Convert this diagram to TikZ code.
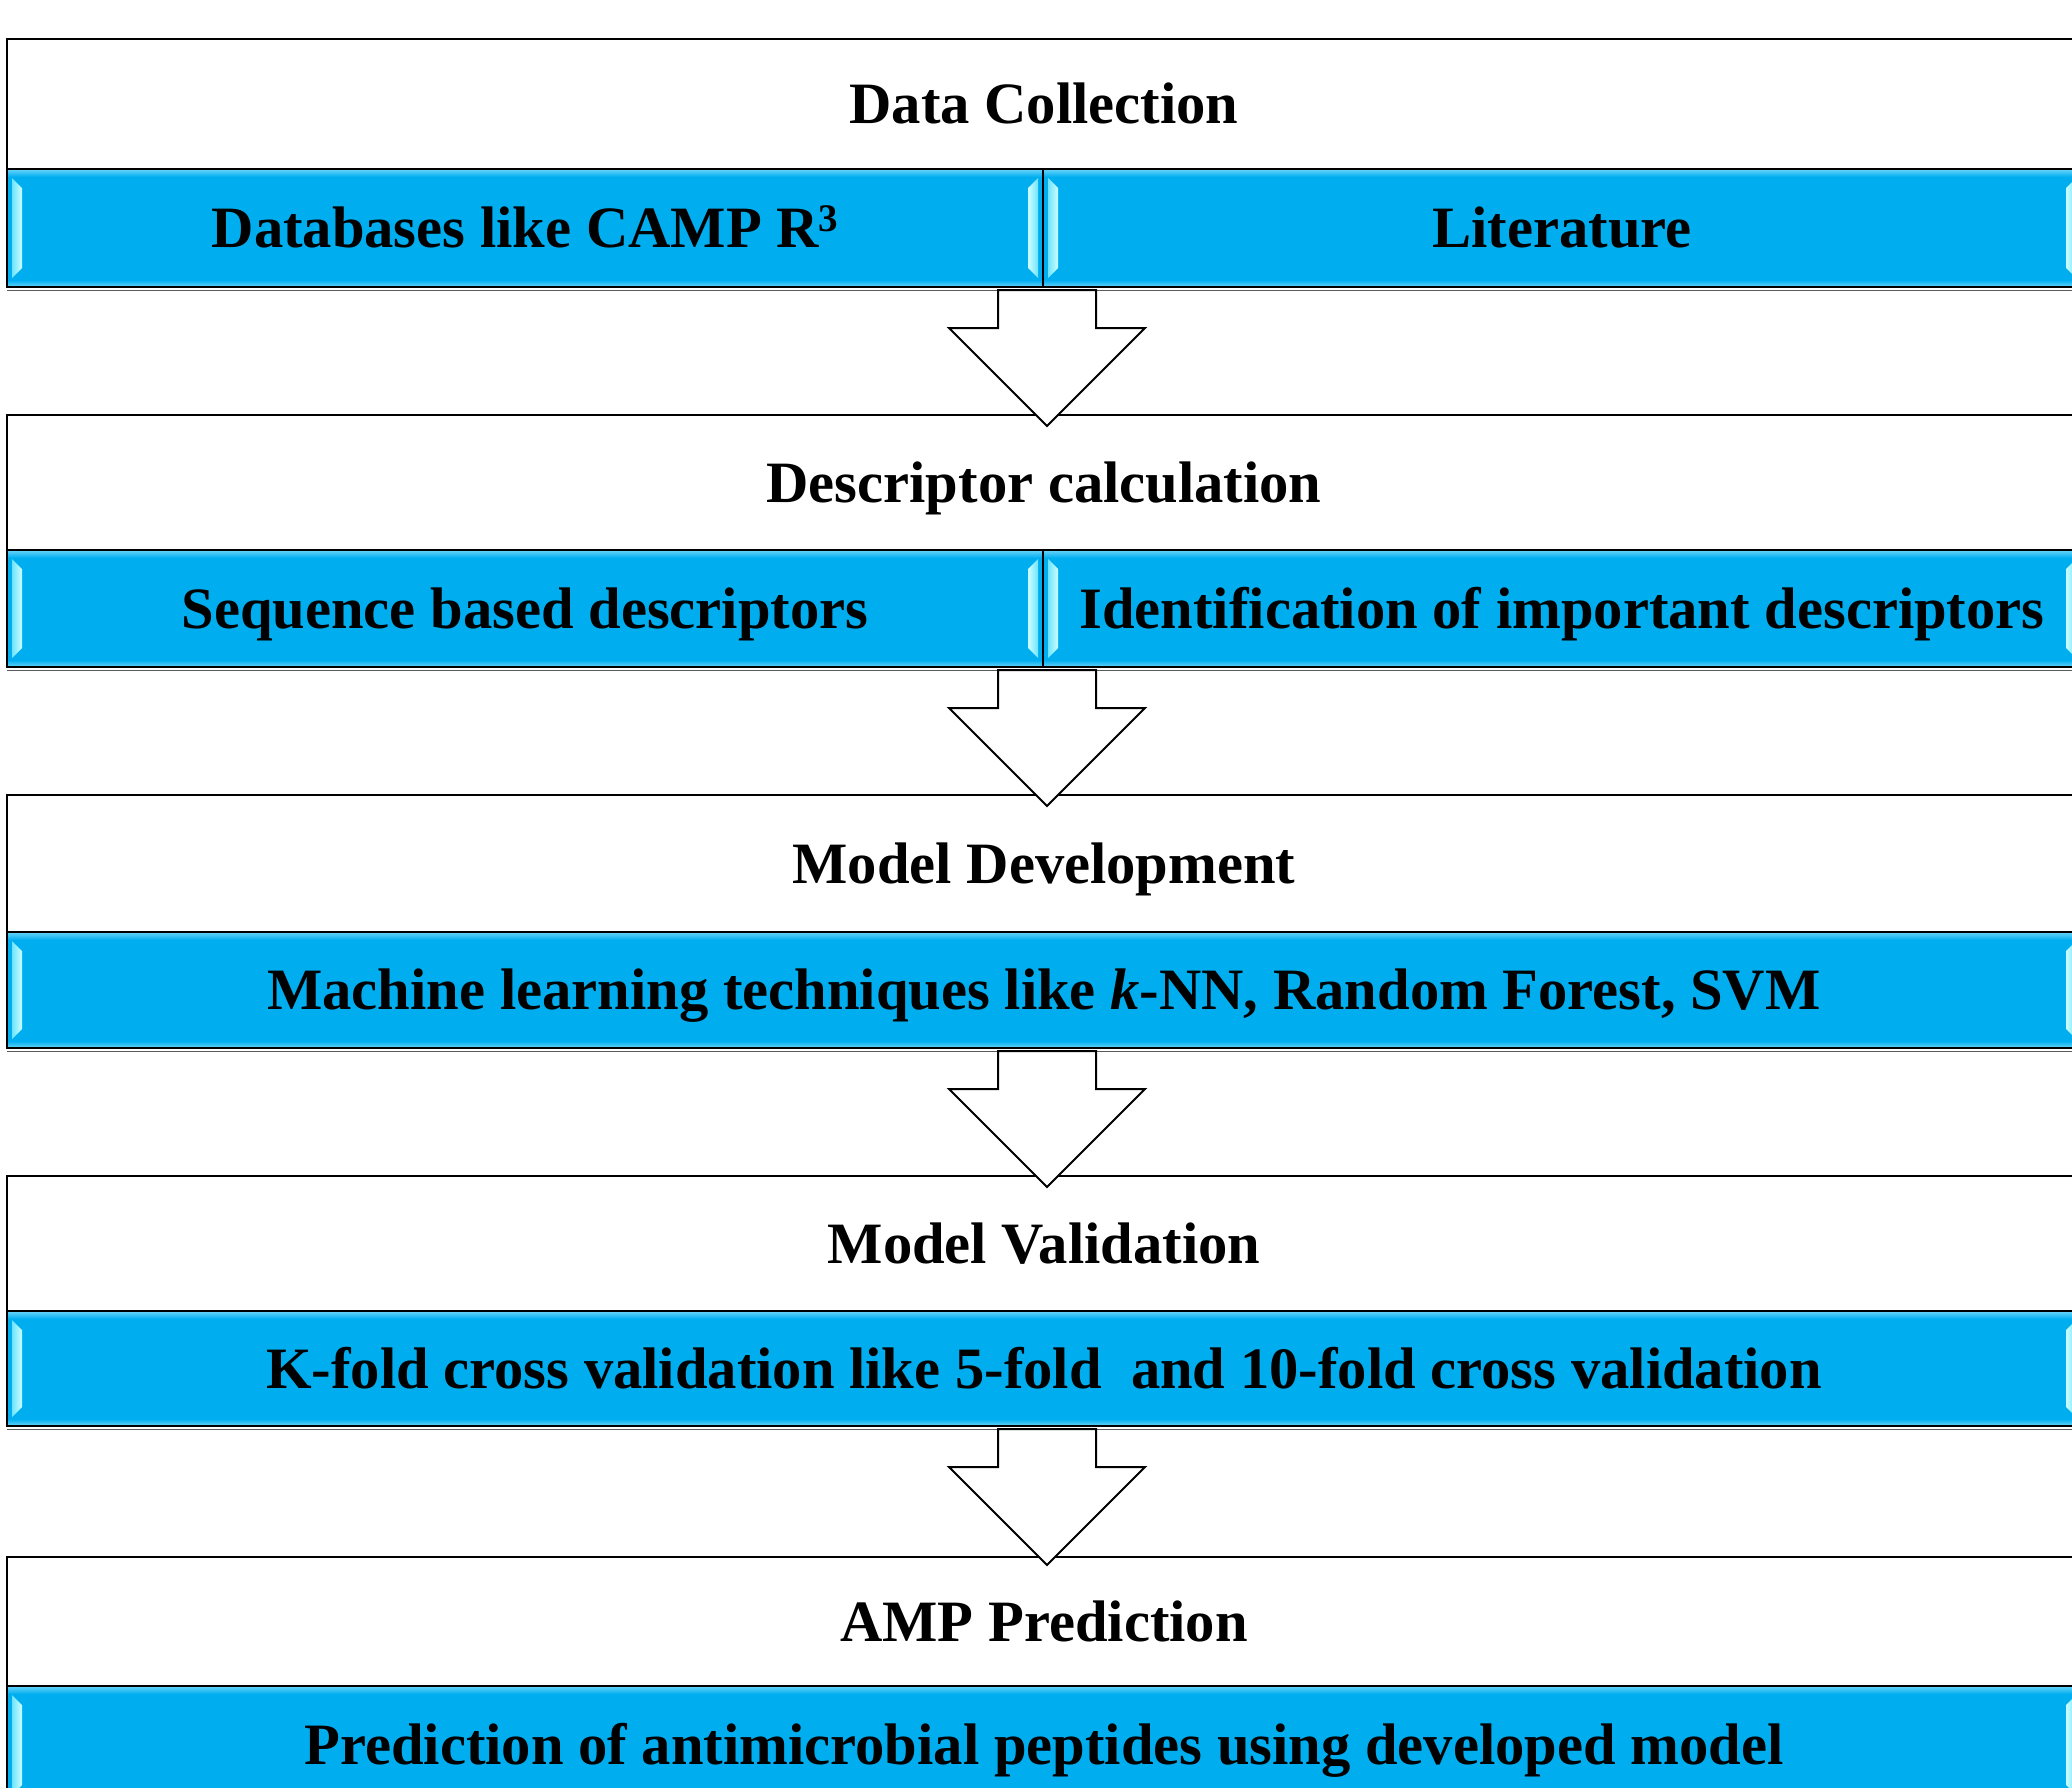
\documentclass[tikz,border=0pt]{standalone}
\usepackage{fontspec}
\setmainfont{Liberation Serif}
\usetikzlibrary{calc}

\definecolor{barblue}{RGB}{0,174,239}
\definecolor{barglow}{RGB}{105,212,250}
\definecolor{hlouter}{RGB}{110,228,252}
\definecolor{hlinner}{RGB}{205,255,255}
\definecolor{shadowgray}{RGB}{90,90,90}

% raised superscript digit, set by hand
\newcommand{\supdigit}[1]{\raisebox{16pt}{\fontsize{39}{40}\selectfont #1}}

\tikzset{
  stagetext/.style={font=\fontsize{58.6}{70}\selectfont\bfseries,
    text height=39pt, text depth=0pt, inner sep=0pt, outer sep=0pt,
    anchor=north west, line width=2pt, draw=black},
  stagehead/.style={stagetext, fill=white, minimum width=2074pt},
  stagebar/.style={stagetext, fill=barblue,
    path picture={
      \coordinate (pnw) at (path picture bounding box.north west);
      \coordinate (pse) at (path picture bounding box.south east);
      % soft glow along the top and bottom edges
      \shade[top color=barglow, bottom color=barblue]
        (pnw) rectangle ($(pnw -| pse)+(0pt,-8pt)$);
      \shade[top color=barblue, bottom color=barglow]
        ($(pse -| pnw)+(0pt,7pt)$) rectangle (pse);
      % bevelled highlights near the left and right edges
      \shade[left color=hlouter, right color=hlinner]
        ($(pnw)+(5pt,-9pt)$) -- ($(pnw)+(15pt,-19pt)$) --
        ($(pnw |- pse)+(15pt,19pt)$) -- ($(pnw |- pse)+(5pt,9pt)$) -- cycle;
      \shade[left color=hlinner, right color=hlouter]
        ($(pnw -| pse)+(-5pt,-9pt)$) -- ($(pnw -| pse)+(-15pt,-19pt)$) --
        ($(pse)+(-15pt,19pt)$) -- ($(pse)+(-5pt,9pt)$) -- cycle;
    }},
  shadowline/.style={draw=shadowgray, line width=1.5pt},
  flowarrow/.style={draw=black, fill=white, line width=2pt, line join=miter},
}

\begin{document}
\begin{tikzpicture}[x=1pt, y=-1pt]
  \useasboundingbox (0,0) rectangle (2072,1788);
  \clip (0,0) rectangle (2072,1788);
  \fill[white] (0,0) rectangle (2072,1788);

  % Stage 1
  \node[stagehead, minimum height=130pt] (h0) at (7,39) {Data Collection};
  \node[stagebar, minimum width=1036pt, minimum height=118pt] (b0l) at (7,169)
    {Databases like CAMP R\supdigit{3}};
  \node[stagebar, minimum width=1038pt, minimum height=118pt] (b0r) at (1043,169)
    {Literature};
  \draw[shadowline] ([yshift=-3.5pt]b0l.south west) -- ([yshift=-3.5pt]b0r.south east);

  % Stage 2
  \node[stagehead, minimum height=135pt] (h1) at (7,415) {Descriptor calculation};
  \node[stagebar, minimum width=1036pt, minimum height=117pt] (b1l) at (7,550)
    {Sequence based descriptors};
  \node[stagebar, minimum width=1038pt, minimum height=117pt] (b1r) at (1043,550)
    {Identification of important descriptors};
  \draw[shadowline] ([yshift=-3.5pt]b1l.south west) -- ([yshift=-3.5pt]b1r.south east);

  % Stage 3
  \node[stagehead, minimum height=137pt] (h2) at (7,795) {Model Development};
  \node[stagebar, minimum width=2074pt, minimum height=116pt] (b2) at (7,932)
    {Machine learning techniques like \textit{k}-NN, Random Forest, SVM};
  \draw[shadowline] ([yshift=-3.5pt]b2.south west) -- ([yshift=-3.5pt]b2.south east);

  % Stage 4
  \node[stagehead, minimum height=135pt] (h3) at (7,1176) {Model Validation};
  \node[stagebar, minimum width=2074pt, minimum height=115pt] (b3) at (7,1311)
    {K-fold cross validation like 5-fold\ \ and 10-fold cross validation};
  \draw[shadowline] ([yshift=-3.5pt]b3.south west) -- ([yshift=-3.5pt]b3.south east);

  % Stage 5
  \node[stagehead, minimum height=129pt] (h4) at (7,1557) {AMP Prediction};
  \node[stagebar, minimum width=2074pt, minimum height=118pt] (b4) at (7,1686)
    {Prediction of antimicrobial peptides using developed model};

  % Block arrows between consecutive stages
  \coordinate (a0) at (h0.south |- b0l.south);
  \coordinate (a1) at (h1.south |- b1l.south);
  \coordinate (a2) at (b2.south);
  \coordinate (a3) at (b3.south);
  \foreach \a in {a0,a1,a2,a3} {
    \draw[flowarrow] ([xshift=-46pt,yshift=-3pt]\a) -- ++(0,38) -- ++(-49,0)
      -- ++(98,98) -- ++(98,-98) -- ++(-49,0) -- ++(0,-38) -- cycle;
  }
\end{tikzpicture}
\end{document}
